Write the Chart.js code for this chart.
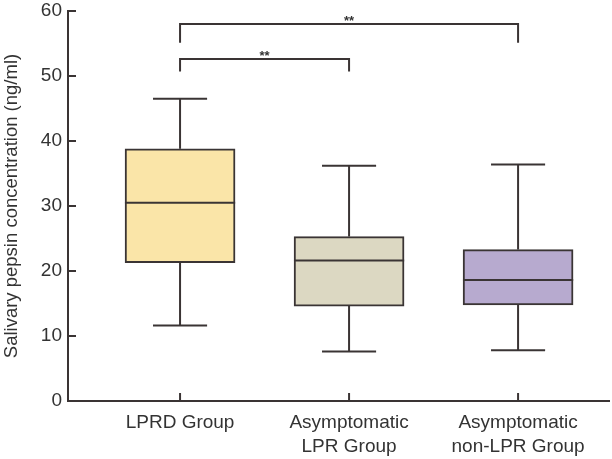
<!DOCTYPE html>
<html>
<head>
<meta charset="utf-8">
<script src="https://cdn.jsdelivr.net/npm/chart.js@4/dist/chart.umd.min.js"></script>
<style>
  html, body { margin: 0; padding: 0; background: #fff; }
  #wrap { width: 612px; height: 459px; }
</style>
</head>
<body>
<div id="wrap"><canvas id="myChart"></canvas></div>
<script>
// groups and box stats
var groupLabels = [['LPRD Group'], ['Asymptomatic', 'LPR Group'], ['Asymptomatic', 'non-LPR Group']];
var whiskerLow  = [11.6, 7.6, 7.8];
var q1Values    = [21.3, 14.6, 14.8];
var medians     = [30.5, 21.6, 18.6];
var q3Values    = [38.8, 25.3, 23.3];
var whiskerHigh = [46.5, 36.2, 36.4];
var boxColors   = ['#fae5a8', '#dcd8c2', '#b7aacf'];
var yTicks      = [0, 10, 20, 30, 40, 50, 60];

// significance brackets: from group, to group, foot value, top value, text
var bracketFrom = [0, 0];
var bracketTo   = [1, 2];
var bracketFoot = [50.7, 55.1];
var bracketTop  = [52.6, 58.0];
var bracketText = ['**', '**'];

var lineColor = '#3a3434';
var textColor = '#333333';
var boxHalf = 0.326;   // half box width in x units
var capHalf = 0.16;    // half whisker cap width

var datasets = [];

// boxes as floating bars
datasets.push({
  type: 'bar',
  data: groupLabels.map(function (l, i) { return { x: i, y: [q1Values[i], q3Values[i]] }; }),
  backgroundColor: boxColors,
  borderColor: lineColor,
  borderWidth: 2,
  borderSkipped: false,
  barThickness: 110,
  order: 2
});

function seg(points, w) {
  datasets.push({
    type: 'line',
    data: points,
    borderColor: lineColor,
    borderWidth: w || 2,
    pointRadius: 0,
    fill: false,
    tension: 0,
    order: 1
  });
}

for (var i = 0; i < groupLabels.length; i++) {
  seg([{ x: i, y: q3Values[i] }, { x: i, y: whiskerHigh[i] }]);
  seg([{ x: i, y: q1Values[i] }, { x: i, y: whiskerLow[i] }]);
  seg([{ x: i - capHalf, y: whiskerHigh[i] }, { x: i + capHalf, y: whiskerHigh[i] }]);
  seg([{ x: i - capHalf, y: whiskerLow[i] }, { x: i + capHalf, y: whiskerLow[i] }]);
  seg([{ x: i - boxHalf, y: medians[i] }, { x: i + boxHalf, y: medians[i] }]);
}

for (var b = 0; b < bracketFrom.length; b++) {
  seg([
    { x: bracketFrom[b], y: bracketFoot[b] },
    { x: bracketFrom[b], y: bracketTop[b] },
    { x: bracketTo[b], y: bracketTop[b] },
    { x: bracketTo[b], y: bracketFoot[b] }
  ]);
}

// inward tick marks + star labels
var extras = {
  id: 'extras',
  afterDraw: function (chart) {
    var ctx = chart.ctx;
    var xs = chart.scales.x, ys = chart.scales.y;
    var area = chart.chartArea;
    ctx.save();
    ctx.strokeStyle = lineColor;
    ctx.lineWidth = 2;
    yTicks.forEach(function (v) {
      var py = ys.getPixelForValue(v);
      ctx.beginPath();
      ctx.moveTo(area.left, py);
      ctx.lineTo(area.left + 8, py);
      ctx.stroke();
    });
    groupLabels.forEach(function (l, i) {
      var px = xs.getPixelForValue(i);
      ctx.beginPath();
      ctx.moveTo(px, area.bottom);
      ctx.lineTo(px, area.bottom - 8);
      ctx.stroke();
    });
    ctx.fillStyle = textColor;
    ctx.font = 'bold 13px "Liberation Sans", Arial, sans-serif';
    ctx.textAlign = 'center';
    ctx.textBaseline = 'middle';
    for (var k = 0; k < bracketText.length; k++) {
      var mx = xs.getPixelForValue((bracketFrom[k] + bracketTo[k]) / 2);
      var my = ys.getPixelForValue(bracketTop[k]);
      ctx.fillText(bracketText[k], mx, my - 3);
    }
    ctx.restore();
  }
};

var ctx = document.getElementById('myChart').getContext('2d');
var chart = new Chart(ctx, {
  data: { datasets: datasets },
  plugins: [extras],
  options: {
    responsive: true,
    maintainAspectRatio: false,
    animation: false,
    layout: { padding: { top: 11, right: 3, left: 0, bottom: 0 } },
    plugins: { legend: { display: false }, tooltip: { enabled: false } },
    scales: {
      x: {
        type: 'linear',
        offset: false,
        min: -0.663,
        max: 2.538,
        afterBuildTicks: function (s) { s.ticks = groupLabels.map(function (l, i) { return { value: i }; }); },
        afterFit: function (s) { s.height = 58; s.paddingLeft = 0; s.paddingRight = 0; },
        grid: { display: false, drawTicks: false, offset: false },
        border: { display: true, color: lineColor, width: 2 },
        ticks: {
          autoSkip: false,
          maxRotation: 0,
          padding: 9,
          color: textColor,
          font: { family: '"Liberation Sans", Arial, sans-serif', size: 19, lineHeight: 1.3 },
          callback: function (v) { return groupLabels[v]; }
        }
      },
      y: {
        min: 0,
        max: 60,
        afterBuildTicks: function (s) { s.ticks = yTicks.map(function (v) { return { value: v }; }); },
        afterFit: function (s) { s.width = 68; s.paddingTop = 0; s.paddingBottom = 0; },
        grid: { display: false, drawTicks: false },
        border: { display: true, color: lineColor, width: 2 },
        ticks: {
          padding: 6,
          color: textColor,
          font: { family: '"Liberation Sans", Arial, sans-serif', size: 19 }
        },
        title: {
          display: true,
          text: 'Salivary pepsin concentration (ng/ml)',
          color: textColor,
          padding: { top: 1, bottom: 0 },
          font: { family: '"Liberation Sans", Arial, sans-serif', size: 18.5 }
        }
      }
    }
  }
});
</script>
</body>
</html>
